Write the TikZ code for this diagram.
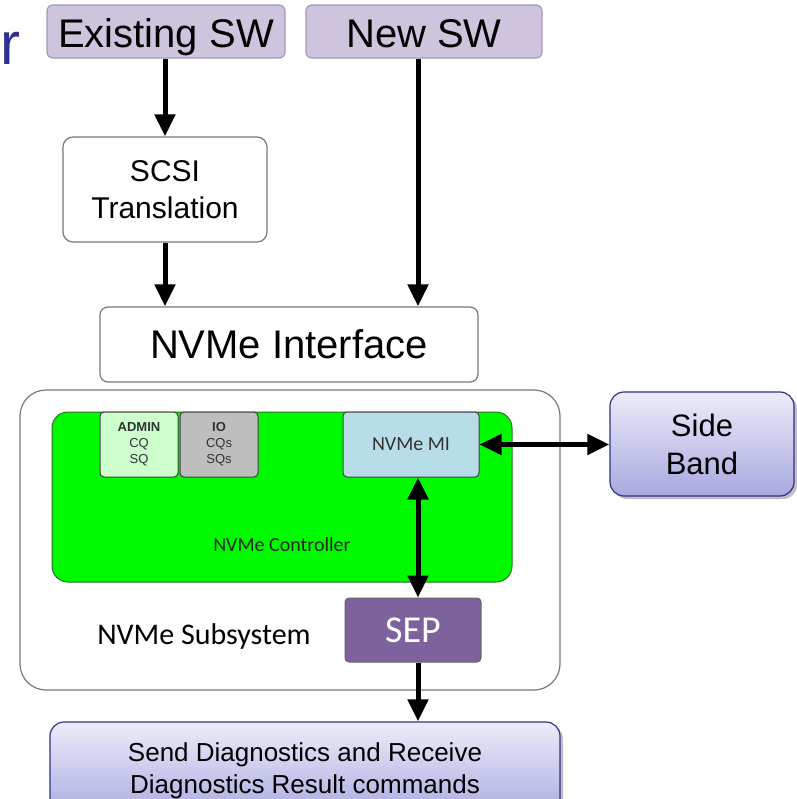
\documentclass[tikz,border=0pt]{standalone}
\usepackage{fontspec}
\setmainfont{Liberation Sans}
\newfontfamily\calibri{Carlito}
\usepackage{tikz}
\usetikzlibrary{shapes,arrows.meta,positioning,shadows}
\definecolor{swlilac}{RGB}{207, 196, 222}
\definecolor{swedge}{RGB}{165, 150, 190}
\definecolor{boxedge}{RGB}{120, 120, 120}
\definecolor{ctrlgreen}{RGB}{0, 250, 0}
\definecolor{ctrledge}{RGB}{40, 110, 40}
\definecolor{adminfill}{RGB}{204, 255, 204}
\definecolor{iofill}{RGB}{190, 190, 190}
\definecolor{mifill}{RGB}{183, 221, 232}
\definecolor{sepfill}{RGB}{125, 98, 158}
\definecolor{bandtop}{RGB}{236, 236, 250}
\definecolor{bandbot}{RGB}{168, 168, 224}
\definecolor{bandedge}{RGB}{48, 48, 138}
\definecolor{titleblue}{RGB}{46, 49, 146}
\tikzstyle{sw} = [rectangle, rounded corners=6pt, draw=swedge, line width=1.2pt, fill=swlilac, text=black, inner sep=0pt, text height=33pt, text depth=0pt, font=\fontsize{40}{44}\selectfont]
\tikzstyle{plain} = [rectangle, rounded corners=10pt, draw=boxedge, line width=1.2pt, fill=white, text=black, inner sep=0pt, align=center]
\tikzstyle{queue} = [rectangle, rounded corners=4pt, draw=black!75, line width=1pt, text=black!80, inner sep=0pt, align=center, minimum width=78pt, minimum height=65pt, font=\fontsize{13}{16}\selectfont]
\tikzstyle{shaded} = [rectangle, rounded corners=14pt, draw=bandedge, line width=1.2pt, top color=bandtop, bottom color=bandbot, text=black, inner sep=0pt, align=center, drop shadow={shadow xshift=3pt, shadow yshift=-3pt, opacity=0.25, fill=black}]
\tikzstyle{tedge} = [draw, line width=5pt, -{Triangle[length=22pt, width=20pt]}]
\tikzstyle{dedge} = [draw, line width=5pt, {Triangle[length=22pt, width=20pt]}-{Triangle[length=22pt, width=20pt]}]

\begin{document}
\begin{tikzpicture}[x=1pt, y=-1pt]
\useasboundingbox (0,0) rectangle (796,799);

% software =============================

\node[text=titleblue, anchor=base west, inner sep=0pt, font=\fontsize{60}{64}\selectfont] (title) at (0,65) {r};
\node[sw, minimum width=238pt, minimum height=53pt] (exsw) at (166,31.5) {Existing SW};
\node[sw, minimum width=236pt, minimum height=53pt] (newsw) at (424,31.5) {New SW};
\node[plain, minimum width=204pt, minimum height=105pt, font=\fontsize{30}{37}\selectfont] (scsi) at (165,189.5) {SCSI\\Translation};
\node[plain, rounded corners=8pt, minimum width=378pt, minimum height=75pt, font=\fontsize{40}{44}\selectfont] (nvmei) at (289,344.5) {NVMe Interface};
\coordinate (col) at (418,0);

% subsystem
\node[plain, rounded corners=26pt, minimum width=540pt, minimum height=300pt] (subsys) at (290,540) {};
\node[rectangle, rounded corners=16pt, draw=ctrledge, line width=1pt, fill=ctrlgreen, minimum width=460pt, minimum height=170pt] (ctrl) at (282,497) {};
\node[queue, fill=adminfill] (admin) at (139,444.5) {\textbf{ADMIN}\\CQ\\SQ};
\node[queue, fill=iofill, right=1pt of admin] (io) {\textbf{IO}\\CQs\\SQs};
\node[queue, fill=mifill, minimum width=136pt, font=\calibri\fontsize{20}{24}\selectfont] (mi) at (411,444.5) {NVMe MI};
\node[font=\calibri\fontsize{20}{24}\selectfont, text=black!85] (ctrllabel) at (282,545) {NVMe Controller};
\node[rectangle, rounded corners=4pt, draw=black!60, line width=1pt, fill=sepfill, text=white, minimum width=136pt, minimum height=64pt, font=\calibri\fontsize{38}{40}\selectfont] (sep) at (413,630) {SEP};
\node[font=\calibri\fontsize{30}{32}\selectfont] (sublabel) at (204,636) {NVMe Subsystem};

% side band and diagnostics
\node[shaded, minimum width=184pt, minimum height=104pt, font=\fontsize{31}{38}\selectfont] (band) at (702,444) {Side\\Band};
\node[shaded, minimum width=510pt, minimum height=98pt, font=\fontsize{26}{32}\selectfont] (diag) at (305,771) {Send Diagnostics and Receive\\Diagnostics Result commands};

%edges
\path[tedge] (exsw.south -| scsi.north) -- (scsi.north);
\path[tedge] (scsi.south) -- (scsi.south |- nvmei.north);
\path[tedge] (newsw.south -| col) -- (nvmei.north -| col);
\path[dedge] (mi.south -| col) -- (sep.north -| col);
\path[dedge] (mi.east) -- (band.west |- mi.east);
\path[tedge] (sep.south -| col) -- (diag.north -| col);

\end{tikzpicture}
\end{document}
